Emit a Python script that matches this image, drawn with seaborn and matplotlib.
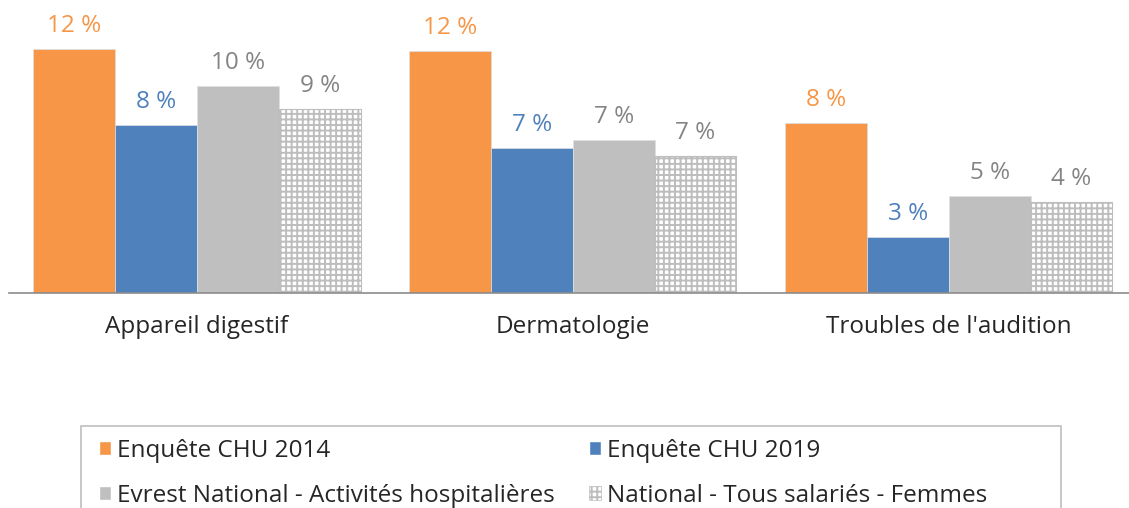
import pandas as pd
import matplotlib.pyplot as plt
import seaborn as sns
from matplotlib.patches import Patch, Rectangle

# categories and series
categories = ["Appareil digestif", "Dermatologie", "Troubles de l'audition"]
series = ["Enquête CHU 2014", "Enquête CHU 2019",
          "Evrest National - Activités hospitalières",
          "National - Tous salariés - Femmes"]

# values in %
chu_2014 = [11.8, 11.7, 8.2]
chu_2019 = [8.1, 7.0, 2.7]
evrest = [10.0, 7.4, 4.7]
national_femmes = [8.9, 6.6, 4.4]

bar_colors = ["#F79646", "#4F81BD", "#BFBFBF", "#FFFFFF"]
label_colors = ["#F79646", "#4F81BD", "#848484", "#848484"]
hatch_col = "#BDBDBD"

rows = []
for name, vals in zip(series, [chu_2014, chu_2019, evrest, national_femmes]):
    for cat, v in zip(categories, vals):
        rows.append({"cat": cat, "serie": name, "val": v})
df = pd.DataFrame(rows)

sns.set_style("white")
plt.rcParams['font.family'] = ['Open Sans', 'DejaVu Sans']
plt.rcParams['hatch.linewidth'] = 1.4
FS = 17.5

fig = plt.figure(figsize=(11.29, 5.08), dpi=100)
ax = fig.add_axes([9 / 1129, (508 - 293) / 508, 1120 / 1129, 293 / 508])

sns.barplot(data=df, x="cat", y="val", hue="serie", hue_order=series,
            order=categories, palette=bar_colors, saturation=1, width=0.87,
            edgecolor="#E0E0E0", linewidth=0.5, legend=False, ax=ax)

# checker-like texture on the last series
for i, cont in enumerate(ax.containers):
    for bar in cont:
        if i == 3:
            bar.set_hatch("+++")
            bar.set_edgecolor(hatch_col)
            bar.set_linewidth(0.8)
    labels = [f"{v:.0f} %" for v in cont.datavalues]
    ax.bar_label(cont, labels=labels, padding=8, color=label_colors[i],
                 fontsize=FS)

ax.set_xlim(-0.5, 2.479)
ax.set_ylim(0, 14.15)
ax.set_xlabel("")
ax.set_ylabel("")
ax.set_yticks([])
ax.tick_params(axis="x", length=0, pad=16, labelsize=FS, labelcolor="#262626")
for s in ["top", "right", "left"]:
    ax.spines[s].set_visible(False)
ax.spines["bottom"].set_color("#8C8C8C")
ax.spines["bottom"].set_linewidth(1.2)

# legend box (row-major order like the original)
handles = []
for i, name in enumerate(series):
    if i == 3:
        handles.append(Patch(facecolor="white", edgecolor=hatch_col,
                             hatch="+++", label=name, linewidth=0.5))
    else:
        handles.append(Patch(facecolor=bar_colors[i], label=name))
handles = [handles[0], handles[2], handles[1], handles[3]]
fig.legend(handles=handles, loc="upper left", ncol=2,
           bbox_to_anchor=(99 / 1129, 1 - 439 / 508), frameon=False,
           fontsize=FS, handlelength=0.5, handleheight=0.5,
           handletextpad=0.25, columnspacing=1.4, labelspacing=0.85,
           labelcolor="#262626", borderaxespad=0, borderpad=0)
fig.add_artist(Rectangle((81 / 1129, -0.01), 980 / 1129, (508 - 426) / 508 + 0.01,
                         transform=fig.transFigure, fill=False,
                         edgecolor="#BFBFBF", linewidth=1.2))

plt.savefig("out.png", dpi=100)
